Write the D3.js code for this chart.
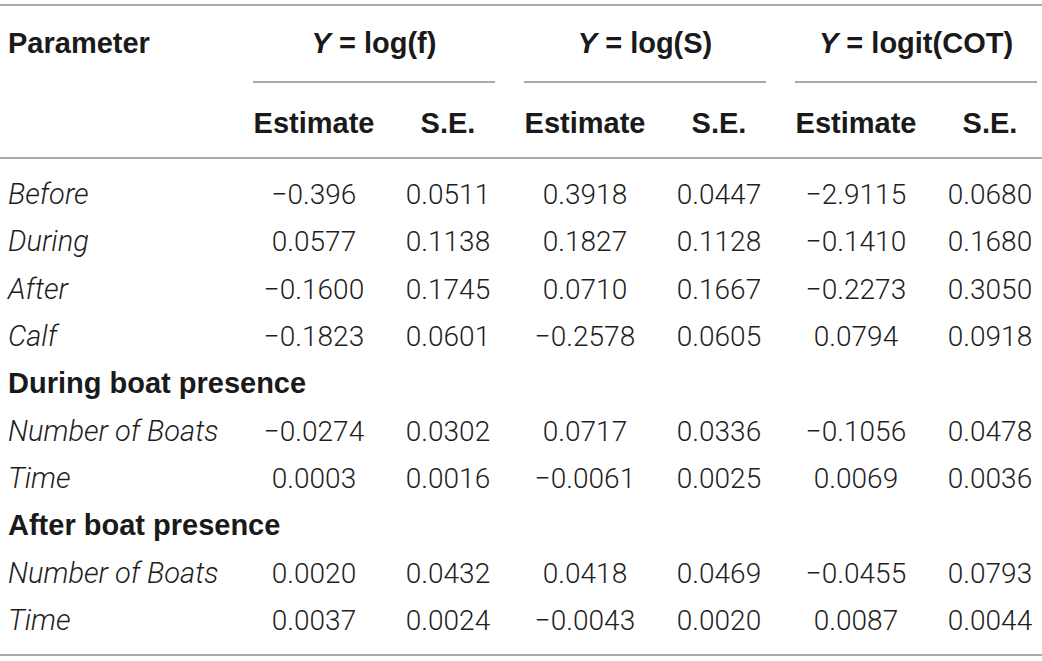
<!DOCTYPE html>
<html>
<head>
<meta charset="utf-8">
<script src="https://cdn.jsdelivr.net/npm/d3@7"></script>
<style>
  body { margin: 0; background: #fff; }
  .bold { font-family: "Liberation Sans", Arial, sans-serif; font-weight: bold; fill: #1a1a1a; }
  .light { font-family: Roboto, "Liberation Sans", sans-serif; font-weight: 300; fill: #1e1e1e; }
</style>
</head>
<body>
<script>
// table content
const groups = ["log(f)", "log(S)", "logit(COT)"];
const subHeaders = ["Estimate", "S.E."];
const rowLabels = ["Before", "During", "After", "Calf", "During boat presence",
                   "Number of Boats", "Time", "After boat presence", "Number of Boats", "Time"];
const sectionRows = [4, 7];

const logfEst  = ["−0.396", "0.0577", "−0.1600", "−0.1823", null, "−0.0274", "0.0003", null, "0.0020", "0.0037"];
const logfSE   = ["0.0511", "0.1138", "0.1745", "0.0601", null, "0.0302", "0.0016", null, "0.0432", "0.0024"];
const logSEst  = ["0.3918", "0.1827", "0.0710", "−0.2578", null, "0.0717", "−0.0061", null, "0.0418", "−0.0043"];
const logSSE   = ["0.0447", "0.1128", "0.1667", "0.0605", null, "0.0336", "0.0025", null, "0.0469", "0.0020"];
const cotEst   = ["−2.9115", "−0.1410", "−0.2273", "0.0794", null, "−0.1056", "0.0069", null, "−0.0455", "0.0087"];
const cotSE    = ["0.0680", "0.1680", "0.3050", "0.0918", null, "0.0478", "0.0036", null, "0.0793", "0.0044"];

const columns = [
  {group: "log(f)", sub: "Estimate", values: logfEst},
  {group: "log(f)", sub: "S.E.", values: logfSE},
  {group: "log(S)", sub: "Estimate", values: logSEst},
  {group: "log(S)", sub: "S.E.", values: logSSE},
  {group: "logit(COT)", sub: "Estimate", values: cotEst},
  {group: "logit(COT)", sub: "S.E.", values: cotSE}
];

const W = 1042, H = 661;
const headSize = 29, labelSize = 29, numSize = 28;
const lineColor = "#8c8c8c";

const svg = d3.select("body").append("svg")
    .attr("width", W)
    .attr("height", H);

const xGroup = d3.scalePoint().domain(groups).range([374, 916]);
const subOffset = d3.scaleOrdinal().domain(subHeaders).range([-60, 74]);
const yRow = d3.scaleLinear().domain([0, rowLabels.length - 1]).range([204, 630]);

// horizontal rules
[5, 158, 655].forEach(y => {
  svg.append("line")
      .attr("x1", 0).attr("x2", W)
      .attr("y1", y).attr("y2", y)
      .attr("stroke", lineColor).attr("stroke-width", 1.5);
});

// group titles + underlines
const g = svg.selectAll(".grp")
    .data(groups)
    .enter().append("g")
    .attr("class", "grp")
    .attr("transform", d => "translate(" + xGroup(d) + ",0)");

const title = g.append("text")
    .attr("class", "bold")
    .attr("text-anchor", "middle")
    .attr("y", 53)
    .attr("font-size", headSize);
title.append("tspan").attr("font-style", "italic").text("Y");
title.append("tspan").text(d => "  = " + d);

g.append("line")
    .attr("x1", -121).attr("x2", 121)
    .attr("y1", 82).attr("y2", 82)
    .attr("stroke", lineColor).attr("stroke-width", 1.5);

svg.append("text")
    .attr("class", "bold")
    .attr("x", 8).attr("y", 53)
    .attr("font-size", headSize)
    .text("Parameter");

// sub headers
svg.selectAll(".sub")
    .data(columns)
    .enter().append("text")
    .attr("class", "sub bold")
    .attr("text-anchor", "middle")
    .attr("x", d => xGroup(d.group) + subOffset(d.sub))
    .attr("y", 133)
    .attr("font-size", headSize)
    .text(d => d.sub);

// row labels
svg.selectAll(".rowlab")
    .data(rowLabels)
    .enter().append("text")
    .attr("class", (d, i) => sectionRows.includes(i) ? "rowlab bold" : "rowlab light")
    .attr("font-style", (d, i) => sectionRows.includes(i) ? "normal" : "italic")
    .attr("x", 8)
    .attr("y", (d, i) => yRow(i))
    .attr("font-size", labelSize)
    .text(d => d);

// values
columns.forEach(col => {
  svg.append("g").selectAll("text")
      .data(col.values.map((v, i) => ({v: v, i: i})).filter(d => d.v !== null))
      .enter().append("text")
      .attr("class", "light")
      .attr("text-anchor", "middle")
      .attr("x", xGroup(col.group) + subOffset(col.sub))
      .attr("y", d => yRow(d.i))
      .attr("font-size", numSize)
      .text(d => d.v);
});
</script>
</body>
</html>
